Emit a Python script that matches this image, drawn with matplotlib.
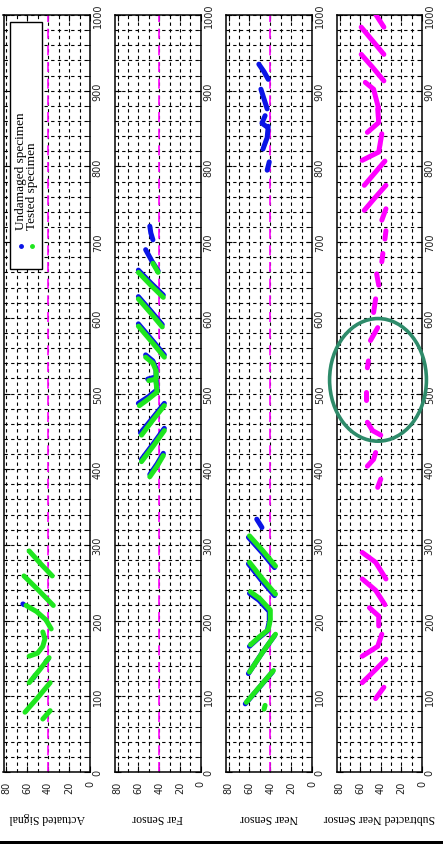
import matplotlib
matplotlib.use("Agg")
import matplotlib.pyplot as plt
from matplotlib.patches import Ellipse, Rectangle
from matplotlib.ticker import MultipleLocator

# panel titles (shown rotated, under each strip)
titles = ["Actuated Signal", "Far Sensor", "Near Sensor", "Subtracted Near Sensor"]
legend_names = ["Undamaged specimen", "Tested specimen"]
ref_level = 40

# each stroke: list of (time sample, amplitude)
act_undamaged = [
    [(222, 64), (221, 63)],
    [(124, 54), (128, 52)],
    [(146, 42), (149, 40)],
]
act_tested = [
    [(259, 36), (275, 47), (292, 58)],
    [(220, 35), (240, 49), (259, 63)],
    [(189, 37), (201, 42), (212, 51), (220, 61)],
    [(185, 45), (176, 43), (166, 45), (157, 50), (153, 58)],
    [(151, 39), (135, 48), (118, 58)],
    [(118, 38), (98, 50), (79, 62)],
    [(81, 38), (70, 45)],
]

far_undamaged = [
    [(703, 46), (712, 48), (721, 49)],
    [(662, 41), (675, 47), (690, 53)],
    [(630, 36), (646, 48), (663, 60)],
    [(591, 37), (609, 48), (628, 60)],
    [(551, 35), (571, 47), (592, 60)],
    [(551, 53), (543, 46), (533, 43), (522, 43), (519, 51)],
    [(518, 43), (505, 42), (496, 50), (487, 60)],
    [(487, 35), (468, 46), (448, 58)],
    [(454, 35), (433, 46), (413, 57)],
    [(421, 36), (407, 42), (393, 49)],
]
far_tested = [
    [(660, 41), (672, 46)],
    [(627, 36), (643, 48), (660, 60)],
    [(588, 37), (606, 48), (625, 60)],
    [(548, 35), (568, 47), (589, 60)],
    [(548, 53), (540, 46), (530, 43), (519, 43), (517, 50)],
    [(515, 43), (502, 42), (493, 50), (484, 59)],
    [(484, 35), (465, 46), (445, 57)],
    [(451, 35), (430, 46), (410, 57)],
    [(418, 36), (404, 42), (390, 49)],
]

near_undamaged = [
    [(795, 43), (806, 41)],
    [(823, 47), (838, 43), (853, 42)],
    [(852, 43), (857, 48), (867, 45)],
    [(876, 43), (889, 46), (902, 49)],
    [(915, 42), (925, 46), (935, 51)],
    [(323, 48), (334, 53)],
    [(270, 36), (290, 48), (310, 61)],
    [(233, 36), (254, 49), (275, 61)],
    [(201, 41), (212, 41), (227, 51), (236, 60)],
    [(199, 41), (186, 43), (176, 52), (166, 60)],
    [(180, 36), (155, 49), (130, 61)],
    [(132, 38), (111, 51), (90, 64)],
]
near_tested = [
    [(272, 35), (292, 47), (312, 60)],
    [(235, 35), (256, 48), (277, 60)],
    [(203, 40), (214, 40), (229, 50), (238, 59)],
    [(201, 40), (188, 42), (178, 51), (168, 59)],
    [(182, 35), (157, 48), (132, 60)],
    [(134, 37), (113, 50), (92, 63)],
    [(88, 45), (83, 46)],
]

sub_near = [
    [(255, 35), (277, 45), (290, 58)],
    [(221, 36), (240, 45), (255, 58)],
    [(193, 42), (206, 42), (217, 51)],
    [(182, 39), (166, 43), (153, 58)],
    [(149, 35), (134, 46), (118, 58)],
    [(112, 37), (97, 45)],
    [(376, 43), (387, 40)],
    [(404, 53), (413, 47), (422, 45)],
    [(445, 40), (451, 48), (462, 53)],
    [(491, 54), (502, 54)],
    [(534, 53), (543, 52)],
    [(570, 50), (587, 43)],
    [(607, 47), (625, 45)],
    [(643, 42), (658, 44)],
    [(674, 39), (685, 38)],
    [(704, 36), (715, 35)],
    [(729, 39), (744, 35)],
    [(742, 56), (758, 46), (775, 35)],
    [(775, 56), (791, 46), (807, 36)],
    [(808, 58), (819, 42), (843, 39)],
    [(845, 53), (858, 42), (876, 43)],
    [(876, 42), (902, 47), (911, 55)],
    [(913, 37), (931, 48), (948, 59)],
    [(948, 37), (966, 48), (984, 59)],
    [(984, 37), (1001, 45)],
]

BLUE = "#0a14e6"
GREEN = "#1ee61e"
MAG = "#ff00ff"

fig = plt.figure(figsize=(4.43, 8.45), dpi=100)
lefts = [3.5, 115, 226, 337]
rights = [90, 200.7, 312, 422]
W, H = 443.0, 845.0

def strokes(ax, segs, color):
    for s in segs:
        ax.plot([p[1] for p in s], [p[0] for p in s], color=color, lw=3.6,
                solid_capstyle="round", solid_joinstyle="round", zorder=3)

axes = []
for i in range(4):
    ax = fig.add_axes([lefts[i] / W, (H - 773) / H, (rights[i] - lefts[i]) / W, 757 / H])
    ax.set_xlim(82.5, 0)
    ax.set_ylim(0, 1000)
    ax.xaxis.set_major_locator(MultipleLocator(20))
    ax.xaxis.set_minor_locator(MultipleLocator(10))
    ax.yaxis.set_major_locator(MultipleLocator(100))
    ax.yaxis.set_minor_locator(MultipleLocator(20))
    ax.grid(which="both", color="k", ls=(0, (3, 3)), lw=0.8)
    ax.tick_params(which="both", direction="in", top=True, bottom=True, left=True, right=True,
                   labelleft=False, labelright=True, labelsize=7, labelcolor="#222222")
    ax.tick_params(which="major", length=4)
    ax.tick_params(which="minor", length=2.5)
    ax.tick_params(axis="x", labelrotation=90, pad=6)
    ax.tick_params(axis="y", labelrotation=90, pad=2)
    for lab in ax.get_yticklabels():
        lab.set_va("center")
    for sp in ax.spines.values():
        sp.set_linewidth(1.1)
    ax.text(0.5, -0.06, titles[i], transform=ax.transAxes, rotation=180,
            ha="center", va="center", fontsize=8.5, family="Liberation Serif")
    if i < 3:
        ax.axvline(ref_level, color=MAG, ls=(0, (6, 4)), lw=1.2, zorder=2)
    axes.append(ax)

strokes(axes[0], act_undamaged, BLUE)
strokes(axes[0], act_tested, GREEN)
strokes(axes[1], far_undamaged, BLUE)
strokes(axes[1], far_tested, GREEN)
strokes(axes[2], near_undamaged, BLUE)
strokes(axes[2], near_tested, GREEN)
strokes(axes[3], sub_near, MAG)

# highlight ring on the subtracted signal
axes[3].add_patch(Ellipse((42.7, 518), 94, 162, fill=False, ec="#2e8b6a", lw=2.6,
                          clip_on=False, zorder=5))

# legend drawn sideways in the first strip
ax = axes[0]
ax.add_patch(Rectangle((0.075, 0.664), 0.37, 0.327, transform=ax.transAxes, fc="white",
                       ec="k", lw=1.0, zorder=6))
for j, (name, col) in enumerate(zip(legend_names, [BLUE, GREEN])):
    xf = 0.2 + j * 0.127
    ax.plot([xf], [0.695], marker="o", ms=2.5, color=col, transform=ax.transAxes, zorder=7)
    ax.text(xf, 0.717, name, transform=ax.transAxes, rotation=90, ha="center", va="bottom",
            fontsize=9.5, family="Liberation Serif", zorder=7)

fig.add_artist(Rectangle((0, 0), 1, 3.5 / H, transform=fig.transFigure, fc="k", ec="none"))

fig.savefig("out.png", dpi=100)
